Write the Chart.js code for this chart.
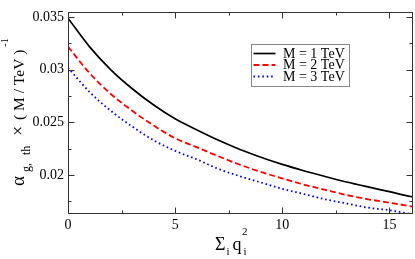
<!DOCTYPE html>
<html>
<head>
<meta charset="utf-8">
<script src="https://cdn.jsdelivr.net/npm/chart.js@4/dist/chart.umd.min.js"></script>
<style>
html,body{margin:0;padding:0;background:#fff;}
canvas{display:block;}
</style>
</head>
<body>
<canvas id="c" width="415" height="259"></canvas>
<script>
// ---- data ----
const sumQ2 = [0,1,2,3,4,5,6,7,8,9,10,11,12,13,14,15,16,16.1];
const alphaM1 = [0.0349,0.0322,0.0300,0.0282,0.02665,0.02534,0.0243,0.02332,0.02245,0.02169,0.02101,0.02041,0.01986,0.01934,0.01887,0.01842,0.01796,0.01792];
const alphaM2 = [0.0322,0.0297,0.0277,0.0261,0.0247,0.0235,0.02265,0.0218,0.0210,0.0203,0.01968,0.0191,0.0186,0.0181,0.0177,0.01738,0.01703,0.01699];
const alphaM3 = [0.0302,0.0279,0.0261,0.0246,0.0233,0.0223,0.0215,0.0206,0.0199,0.0193,0.01869,0.0182,0.0177,0.0173,0.0169,0.01666,0.0163,0.01626];
const seriesLabels = ['M = 1 TeV','M = 2 TeV','M = 3 TeV'];
const xTickVals = [0,5,10,15];
const xTickLabels = ['0','5','10','15'];
const xMinorVals = [2.5,7.5,12.5];
const yTickVals = [0.02,0.025,0.03,0.035];
const yTickLabels = ['0.02','0.025','0.03','0.035'];
const yMinorVals = [0.0175,0.0225,0.0275,0.0325];

const SERIF = '"Liberation Serif", "Times New Roman", serif';

function pts(ys){ return sumQ2.map((x,i)=>({x:x, y:ys[i]})); }

const decor = {
  id:'decor',
  afterDraw(chart){
    const ctx = chart.ctx, a = chart.chartArea;
    const xs = chart.scales.x, ys = chart.scales.y;
    ctx.save();
    // frame
    ctx.strokeStyle = '#333';
    ctx.lineWidth = 1;
    const L = Math.round(a.left)+0.5, R = Math.round(a.right)-0.5, T = Math.round(a.top)+0.5, B = Math.round(a.bottom)-0.5;
    ctx.strokeRect(L, T, R-L, B-T);
    // ticks (inward, all four sides)
    ctx.beginPath();
    const xt = (v,len)=>{ const p = Math.round(xs.getPixelForValue(v))+0.5;
      ctx.moveTo(p,B); ctx.lineTo(p,B-len); ctx.moveTo(p,T); ctx.lineTo(p,T+len); };
    const yt = (v,len)=>{ const p = Math.round(ys.getPixelForValue(v))+0.5;
      ctx.moveTo(L,p); ctx.lineTo(L+len,p); ctx.moveTo(R,p); ctx.lineTo(R-len,p); };
    xTickVals.forEach(v=>xt(v,6)); xMinorVals.forEach(v=>xt(v,3));
    yTickVals.forEach(v=>yt(v,6)); yMinorVals.forEach(v=>yt(v,3));
    ctx.stroke();

    // legend
    const lx = 251.5, ly = 44.5, lw = 98, lh = 42;
    ctx.fillStyle = '#fff';
    ctx.fillRect(lx, ly, lw, lh);
    ctx.strokeStyle = '#888';
    ctx.strokeRect(lx, ly, lw, lh);
    const rows = [53.5, 65, 76.5];
    chart.data.datasets.forEach((ds,i)=>{
      ctx.save();
      ctx.strokeStyle = ds.borderColor;
      ctx.lineWidth = ds.borderWidth;
      ctx.setLineDash(ds.borderDash || []);
      ctx.beginPath();
      ctx.moveTo(253.5, rows[i]); ctx.lineTo(275.5, rows[i]);
      ctx.stroke();
      ctx.restore();
      ctx.fillStyle = '#000';
      ctx.font = '14px ' + SERIF;
      ctx.textBaseline = 'middle';
      ctx.textAlign = 'left';
      ctx.fillText(ds.label, 283, rows[i]+0.5);
    });

    // x title: Σ_i q^2_i
    ctx.fillStyle = '#000';
    ctx.textBaseline = 'alphabetic';
    ctx.textAlign = 'left';
    let x = 215, base = 250;
    ctx.font = '18px ' + SERIF; ctx.fillText('\u03A3', x, base); x += ctx.measureText('\u03A3').width;
    ctx.font = '11px ' + SERIF; ctx.fillText('i', x+1, base+5); x += ctx.measureText('i').width + 4;
    ctx.font = '18px ' + SERIF; ctx.fillText('q', x, base); x += ctx.measureText('q').width + 0.5;
    ctx.font = '11px ' + SERIF; ctx.fillText('2', x, base-15); ctx.fillText('i', x+1.5, base+5);

    // y title: α_{g, th} × ( M / TeV )^{-1}
    ctx.save();
    ctx.translate(24, 186);
    ctx.rotate(-Math.PI/2);
    ctx.font = '19px ' + SERIF; ctx.fillText('\u03B1', 0, 0);
    ctx.font = '12px ' + SERIF; ctx.fillText('g,', 14, 6); ctx.fillText('th', 31, 6);
    ctx.font = '18px ' + SERIF; ctx.fillText('\u00D7', 50, 0);
    ctx.font = '15.5px ' + SERIF; ctx.fillText('( M / TeV )', 66, 0);
    const w = ctx.measureText('( M / TeV )').width;
    ctx.font = '10px ' + SERIF; ctx.fillText('-1', 66 + w + 3, -16);
    ctx.restore();

    ctx.restore();
  }
};

new Chart(document.getElementById('c'), {
  type: 'line',
  data: {
    datasets: [
      { label: seriesLabels[0], data: pts(alphaM1), borderColor: '#000000', borderWidth: 1.7, borderDash: [] },
      { label: seriesLabels[1], data: pts(alphaM2), borderColor: '#ff0000', borderWidth: 1.8, borderDash: [6,3] },
      { label: seriesLabels[2], data: pts(alphaM3), borderColor: '#0000ff', borderWidth: 1.8, borderDash: [1.6,2.8] }
    ].map(d => Object.assign(d, { pointRadius: 0, fill: false, cubicInterpolationMode: 'monotone' }))
  },
  options: {
    responsive: false,
    animation: false,
    devicePixelRatio: 1,
    layout: { padding: { left: 0, top: 1, right: 2, bottom: 0 } },
    plugins: { legend: { display: false }, tooltip: { enabled: false } },
    scales: {
      x: {
        type: 'linear', min: 0, max: 16.1,
        grid: { display: false, drawTicks: false },
        border: { display: false },
        afterBuildTicks: s => { s.ticks = xTickVals.map(v => ({ value: v })); },
        afterFit: s => { s.height = 45; },
        ticks: { color: '#000', font: { family: SERIF, size: 14 }, padding: 3, maxRotation: 0, autoSkip: false,
                 callback: (v, i) => xTickLabels[i] }
      },
      y: {
        type: 'linear', min: 0.0163, max: 0.03545,
        grid: { display: false, drawTicks: false },
        border: { display: false },
        afterBuildTicks: s => { s.ticks = yTickVals.map(v => ({ value: v })); },
        afterFit: s => { s.width = 68; },
        ticks: { color: '#000', font: { family: SERIF, size: 14 }, padding: 4, autoSkip: false,
                 callback: (v, i) => yTickLabels[i] }
      }
    }
  },
  plugins: [decor]
});
</script>
</body>
</html>
